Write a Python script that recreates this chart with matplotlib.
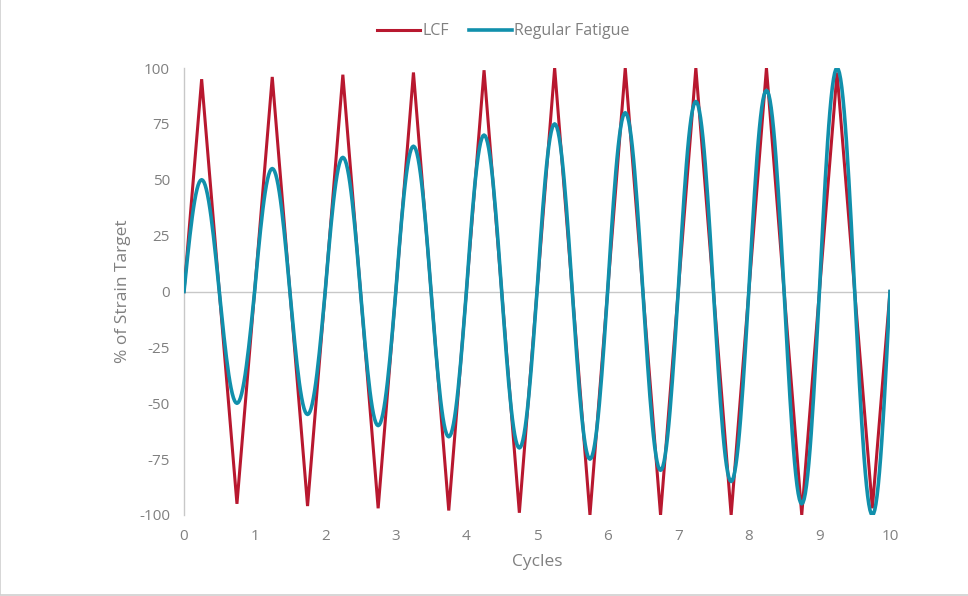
import numpy as np
import matplotlib
matplotlib.use("Agg")
import matplotlib.pyplot as plt
from matplotlib.patches import Rectangle

# ---- data ----
cycles = list(range(10))
lcf_peaks = [95, 96, 97, 98, 99, 100, 100, 100, 100, 98]
lcf_troughs = [-95, -96, -97, -98, -99, -100, -100, -100, -100, -97]
reg_peaks = [50, 55, 60, 65, 70, 75, 80, 85, 90, 100]
reg_troughs = [-50, -55, -60, -65, -70, -75, -80, -85, -95, -100]
x_ticks = [0, 1, 2, 3, 4, 5, 6, 7, 8, 9, 10]
y_ticks = [-100, -75, -50, -25, 0, 25, 50, 75, 100]

RED = "#B8182F"
CYAN = "#1190AC"
GRAY_TXT = "#808080"

# LCF: triangle wave through quarter-cycle points
lcf_x, lcf_y = [0.0], [0.0]
for c, p, t in zip(cycles, lcf_peaks, lcf_troughs):
    lcf_x += [c + 0.25, c + 0.5, c + 0.75, c + 1.0]
    lcf_y += [p, 0, t, 0]

# Regular fatigue: sinusoidal half-cycles with the read amplitudes
reg_x, reg_y = [], []
for c, p, t in zip(cycles, reg_peaks, reg_troughs):
    s = np.linspace(0, 1, 60, endpoint=False)
    reg_x += list(c + s)
    amp = np.where(s < 0.5, p, -t)
    reg_y += list(amp * np.sin(2 * np.pi * s))
reg_x.append(10.0)
reg_y.append(0.0)

plt.rcParams["font.family"] = ["Open Sans", "DejaVu Sans"]
plt.rcParams["axes.unicode_minus"] = False

fig = plt.figure(figsize=(9.68, 5.96), dpi=100)
ax = fig.add_axes([184 / 968, 1 - 515 / 596, (890 - 184) / 968, (515 - 68) / 596])

ax.plot(lcf_x, lcf_y, color=RED, lw=2.2, label="LCF", solid_joinstyle="miter", zorder=3)
ax.plot(reg_x, reg_y, color=CYAN, lw=2.6, label="Regular Fatigue", zorder=4)

ax.set_xlim(0, 10)
ax.set_ylim(-100, 100)
ax.set_xticks(x_ticks)
ax.set_yticks(y_ticks)
ax.tick_params(length=0, labelsize=11, colors=GRAY_TXT, pad=10)
for sp in ["top", "right", "bottom"]:
    ax.spines[sp].set_visible(False)
ax.spines["left"].set_color("#C8C8C8")
ax.spines["left"].set_linewidth(1.0)
ax.axhline(0, color="#C8C8C8", lw=1.0, zorder=1)

ax.set_xlabel("Cycles", fontsize=12.5, color=GRAY_TXT, labelpad=7)
ax.set_ylabel("% of Strain Target", fontsize=12.5, color=GRAY_TXT, labelpad=6)

leg = fig.legend(loc="upper center", bbox_to_anchor=(0.52, 0.985), ncol=2, frameon=False,
                 fontsize=11.5, handlelength=2.7, handletextpad=0.15, columnspacing=1.2)
for t in leg.get_texts():
    t.set_color(GRAY_TXT)

fig.patches.append(Rectangle((0.0005, 0.002), 1.2, 1.2, transform=fig.transFigure,
                             fill=False, edgecolor="#D0D0D0", lw=1.2))

fig.savefig("out.png", dpi=100)
